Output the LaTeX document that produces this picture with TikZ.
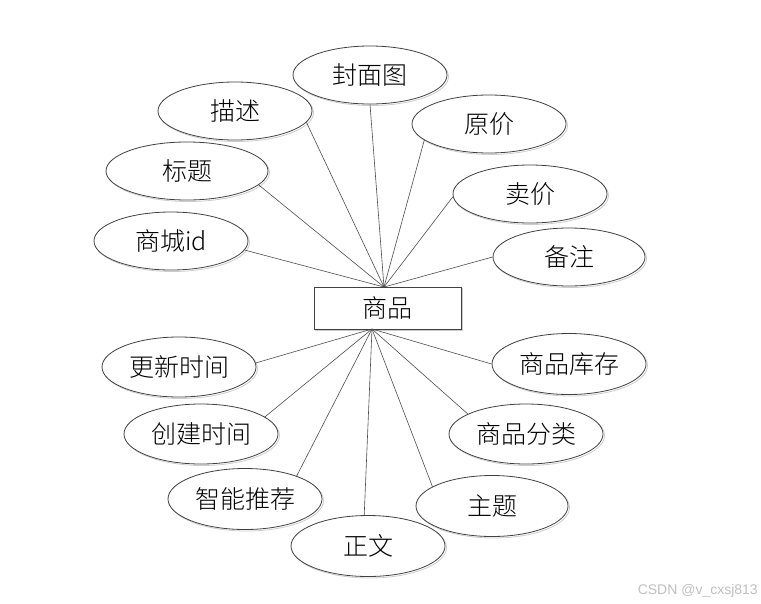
\documentclass[tikz,border=0pt]{standalone}
\usepackage{fontspec}
\newfontfamily\cjk{Noto Sans CJK SC}[UprightFont=* Light]
\newfontfamily\wmfont{Liberation Sans}
\usetikzlibrary{shapes.geometric,shadows}

\tikzset{
  attr/.style={ellipse, draw=black!75, line width=0.8pt, fill=white,
    minimum width=154pt, minimum height=58pt, inner sep=0pt,
    drop shadow={shadow xshift=1.5pt, shadow yshift=-1.5pt, fill=none, draw=black!20, opacity=1},
    font=\cjk\fontsize{25}{25}\selectfont},
  entity/.style={rectangle, draw=black!75, line width=0.8pt, fill=white,
    minimum width=147pt, minimum height=42pt, inner sep=0pt,
    drop shadow={shadow xshift=1.5pt, shadow yshift=-1.5pt, fill=none, draw=black!20, opacity=1},
    font=\cjk\fontsize{25}{25}\selectfont},
  link/.style={draw=black!70, line width=0.6pt}
}

\begin{document}
\begin{tikzpicture}[x=1pt, y=-1pt]
    \useasboundingbox (0,0) rectangle (761,603);

    \node[entity] (goods) at (387.5,308) {商品};
    \coordinate (up) at (384,287);
    \coordinate (down) at (372,329);

    \node[attr] (cover)   at (370,75)  {封面图};
    \node[attr] (desc)    at (235,111) {描述};
    \node[attr, minimum width=162pt] (title) at (187,171) {标题};
    \node[attr] (mallid)  at (171,241) {商城id};
    \node[attr] (oprice)  at (489,124) {原价};
    \node[attr] (price)   at (530,194) {卖价};
    \node[attr, minimum width=152pt] (remark) at (569,257) {备注};

    \node[attr, minimum height=60pt] (utime)     at (179,367) {更新时间};
    \node[attr, minimum height=60pt] (ctime)     at (201,434) {创建时间};
    \node[attr, minimum height=61pt] (recommend) at (245,499) {智能推荐};
    \node[attr, minimum height=61pt] (content)   at (368,546) {正文};
    \node[attr, minimum height=61pt] (stock)     at (569,364) {商品库存};
    \node[attr, minimum height=60pt] (category)  at (526,434) {商品分类};
    \node[attr, minimum height=61pt, minimum width=152pt] (theme) at (492,506) {主题};

    \foreach \a/\p in {cover/south, desc/-9, title/-11, mallid/-7, oprice/-166, price/-178, remark/180}
      \draw[link] (\a.\p) -- (up);
    \foreach \a/\p in {utime/3, ctime/15, recommend/24, content/97, stock/180, category/161, theme/162}
      \draw[link] (\a.\p) -- (down);

    \node[text=black!25, font=\wmfont\fontsize{14}{14}\selectfont, anchor=east, inner sep=0pt] (mark) at (758,591) {CSDN @v\_cxsj813};
\end{tikzpicture}
\end{document}
